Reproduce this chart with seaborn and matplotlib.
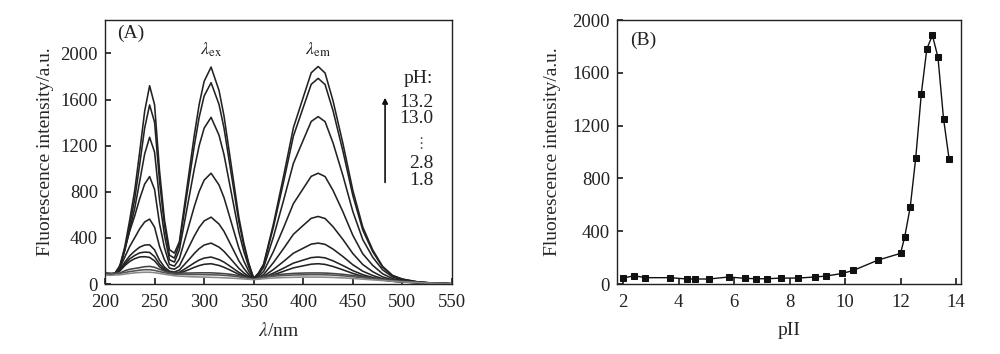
import numpy as np
import pandas as pd
import matplotlib
matplotlib.use("Agg")
import matplotlib.pyplot as plt
import seaborn as sns

# --- panel A: fluorescence spectra at increasing pH ---
wavelength = [200, 205, 210, 215, 220, 225, 230, 235, 240, 245, 250, 255, 260, 265, 270,
              275, 280, 285, 290, 295, 300, 307, 315, 320, 325, 330, 335, 340, 345, 350,
              355, 360, 370, 380, 390, 400, 408, 415, 422, 430, 440, 450, 460, 470, 480,
              490, 500, 515, 530, 550]

spec_1 = [92, 86, 94, 150, 324, 559, 813, 1146, 1498, 1720, 1555, 982, 556, 298, 268,
          366, 672, 979, 1287, 1559, 1758, 1882, 1679, 1459, 1166, 873, 579, 357, 180, 49,
          97, 173, 525, 931, 1355, 1621, 1832, 1887, 1830, 1589, 1218, 811, 494, 296, 153,
          75, 43, 19, 9, 2]
spec_2 = [88, 84, 92, 143, 299, 511, 739, 1038, 1353, 1553, 1404, 890, 508, 250, 225,
          344, 627, 911, 1196, 1447, 1631, 1746, 1558, 1354, 1083, 811, 539, 334, 170, 48,
          94, 166, 498, 881, 1282, 1533, 1732, 1784, 1730, 1503, 1152, 767, 468, 281, 146,
          72, 41, 19, 8, 2]
spec_3 = [90, 85, 92, 147, 292, 473, 658, 891, 1128, 1273, 1144, 728, 422, 210, 190,
          296, 528, 761, 995, 1201, 1352, 1446, 1291, 1123, 900, 676, 452, 283, 148, 47,
          84, 143, 412, 722, 1046, 1249, 1410, 1452, 1408, 1224, 940, 628, 385, 233, 123,
          62, 36, 17, 8, 2]
spec_4 = [91, 86, 90, 162, 308, 461, 592, 740, 867, 932, 820, 524, 315, 170, 155,
          218, 368, 518, 670, 804, 901, 961, 859, 750, 605, 458, 312, 200, 111, 44,
          69, 109, 284, 486, 697, 829, 934, 961, 932, 812, 626, 422, 262, 162, 89,
          47, 29, 15, 7, 2]
spec_5 = [89, 84, 93, 138, 235, 327, 402, 479, 538, 563, 493, 326, 210, 138, 128,
          157, 242, 328, 415, 491, 547, 580, 520, 457, 372, 287, 201, 136, 83, 43,
          58, 82, 187, 306, 431, 509, 570, 586, 568, 497, 386, 264, 169, 107, 62,
          36, 23, 13, 6, 2]
spec_6 = [90, 85, 91, 124, 189, 245, 286, 320, 338, 340, 296, 206, 147, 111, 104,
          121, 168, 215, 264, 307, 338, 355, 320, 283, 235, 186, 136, 97, 66, 41,
          51, 66, 127, 195, 267, 311, 346, 355, 344, 303, 238, 167, 111, 74, 46,
          29, 20, 12, 6, 2]
spec_7 = [92, 87, 90, 118, 173, 218, 248, 270, 277, 274, 238, 172, 129, 100, 95,
          102, 128, 155, 183, 208, 225, 234, 212, 190, 161, 131, 101, 77, 57, 40,
          47, 58, 95, 137, 181, 208, 229, 234, 227, 201, 160, 116, 81, 56, 38,
          25, 18, 11, 5, 2]
spec_8 = [93, 86, 92, 113, 160, 196, 220, 235, 237, 231, 201, 150, 117, 94, 90,
          93, 109, 126, 144, 160, 171, 176, 161, 145, 126, 105, 84, 67, 52, 40,
          46, 54, 80, 110, 140, 158, 172, 176, 170, 152, 123, 92, 66, 48, 34,
          24, 17, 11, 5, 2]
spec_9 = [95, 90, 95, 95, 115, 128, 135, 142, 150, 153, 145, 128, 112, 100, 95,
          95, 95, 95, 96, 97, 97, 97, 93, 90, 86, 80, 72, 62, 52, 42,
          55, 65, 78, 86, 92, 95, 96, 96, 95, 91, 84, 74, 62, 50, 40,
          31, 24, 15, 8, 3]
spec_10 = [100, 95, 88, 92, 100, 108, 114, 120, 124, 124, 118, 108, 98, 90, 86,
           84, 83, 82, 82, 82, 81, 80, 78, 75, 72, 68, 62, 55, 47, 40,
           50, 58, 68, 74, 78, 80, 81, 81, 80, 77, 71, 63, 54, 44, 36,
           28, 22, 14, 7, 3]
spec_11 = [80, 75, 78, 80, 86, 92, 97, 100, 102, 102, 98, 92, 85, 78, 72,
           68, 66, 64, 62, 61, 60, 58, 56, 54, 52, 50, 47, 44, 41, 38,
           42, 46, 52, 56, 58, 60, 60, 60, 59, 57, 53, 48, 42, 36, 30,
           24, 18, 12, 6, 2]

spectra = [spec_1, spec_2, spec_3, spec_4, spec_5, spec_6, spec_7, spec_8,
           spec_9, spec_10, spec_11]
line_colors = ["#222222"] * 8 + ["#444444", "#555555", "#8a8a8a"]

# legend text for the pH series
ph_labels = ["13.2", "13.0", "2.8", "1.8"]

# --- panel B: emission intensity vs pH ---
ph = [2.0, 2.4, 2.8, 3.7, 4.3, 4.6, 5.1, 5.8, 6.4, 6.8, 7.2, 7.7, 8.3, 8.9,
      9.3, 9.9, 10.3, 11.2, 12.0, 12.15, 12.35, 12.55, 12.75, 12.95, 13.15,
      13.35, 13.55, 13.75]
intensity = [45, 63, 48, 48, 38, 38, 38, 53, 43, 40, 40, 45, 45, 53,
             60, 80, 103, 182, 232, 356, 583, 958, 1443, 1783, 1884,
             1717, 1253, 948]

# Styling
sns.set_theme(style="ticks")
plt.rcParams.update({
    "font.family": ["Liberation Serif", "DejaVu Serif"],
    "mathtext.fontset": "stix",
    "font.size": 13,
    "axes.linewidth": 1.0,
    "axes.edgecolor": "#222222",
    "xtick.direction": "in",
    "ytick.direction": "in",
    "xtick.major.size": 4,
    "ytick.major.size": 4,
    "xtick.major.pad": 7,
    "ytick.major.pad": 5,
    "xtick.labelsize": 13.5,
    "ytick.labelsize": 13.5,
    "axes.labelsize": 14,
    "text.color": "#222222",
    "xtick.color": "#222222",
    "ytick.color": "#222222",
})

fig = plt.figure(figsize=(10, 3.54), dpi=100)
ax1 = fig.add_axes([0.105, 0.1977, 0.347, 0.7458])
ax2 = fig.add_axes([0.617, 0.1977, 0.344, 0.7458])

# long-form table for seaborn
frames = []
for i, s in enumerate(spectra):
    frames.append(pd.DataFrame({"wl": wavelength, "val": s, "curve": f"c{i}"}))
spec_df = pd.concat(frames, ignore_index=True)

sns.lineplot(data=spec_df, x="wl", y="val", hue="curve", palette=line_colors,
             estimator=None, sort=False, linewidth=1.15, legend=False, ax=ax1)
ax1.set_xlim(200, 550)
ax1.set_ylim(0, 2290)
ax1.set_xticks(np.arange(200, 551, 50))
ax1.set_yticks(np.arange(0, 2001, 400))
ax1.set_xlabel(r"$\mathit{\lambda}$/nm", labelpad=8)
ax1.set_ylabel("Fluorescence intensity/a.u.", labelpad=5)
ax1.tick_params(top=False, right=False)

ax1.text(0.035, 0.95, "(A)", transform=ax1.transAxes, fontsize=14, va="center")
ax1.text(307, 2030, r"$\mathit{\lambda}_{\rm ex}$", ha="center", va="center", fontsize=13)
ax1.text(415, 2030, r"$\mathit{\lambda}_{\rm em}$", ha="center", va="center", fontsize=13)
ax1.text(531, 1784, "pH:", ha="right", va="center", fontsize=14)
for lab, yv in zip(ph_labels, [1576, 1437, 1048, 900]):
    ax1.text(531, yv, lab, ha="right", va="center", fontsize=14)
ax1.text(526, 1215, "\u22ee", ha="right", va="center", fontsize=11,
         family=["DejaVu Sans"], color="#555555")
ax1.annotate("", xy=(482.5, 1640), xytext=(482.5, 857),
             arrowprops=dict(arrowstyle="-|>", color="#111111", lw=1.2,
                             mutation_scale=8))

b_df = pd.DataFrame({"pH": ph, "I": intensity})
sns.lineplot(data=b_df, x="pH", y="I", marker="s", markersize=5, color="#111111",
             markeredgecolor="#111111", linewidth=1.0, ax=ax2)
ax2.set_xlim(1.78, 14.18)
ax2.set_ylim(0, 2000)
ax2.set_xticks(np.arange(2, 15, 2))
ax2.set_yticks(np.arange(0, 2001, 400))
ax2.set_xlabel("pII", labelpad=8)
ax2.set_ylabel("Fluorescence intensity/a.u.", labelpad=8)
ax2.tick_params(top=False, right=False)
ax2.text(0.038, 0.924, "(B)", transform=ax2.transAxes, fontsize=14, va="center")

fig.savefig("out.png", dpi=100)
